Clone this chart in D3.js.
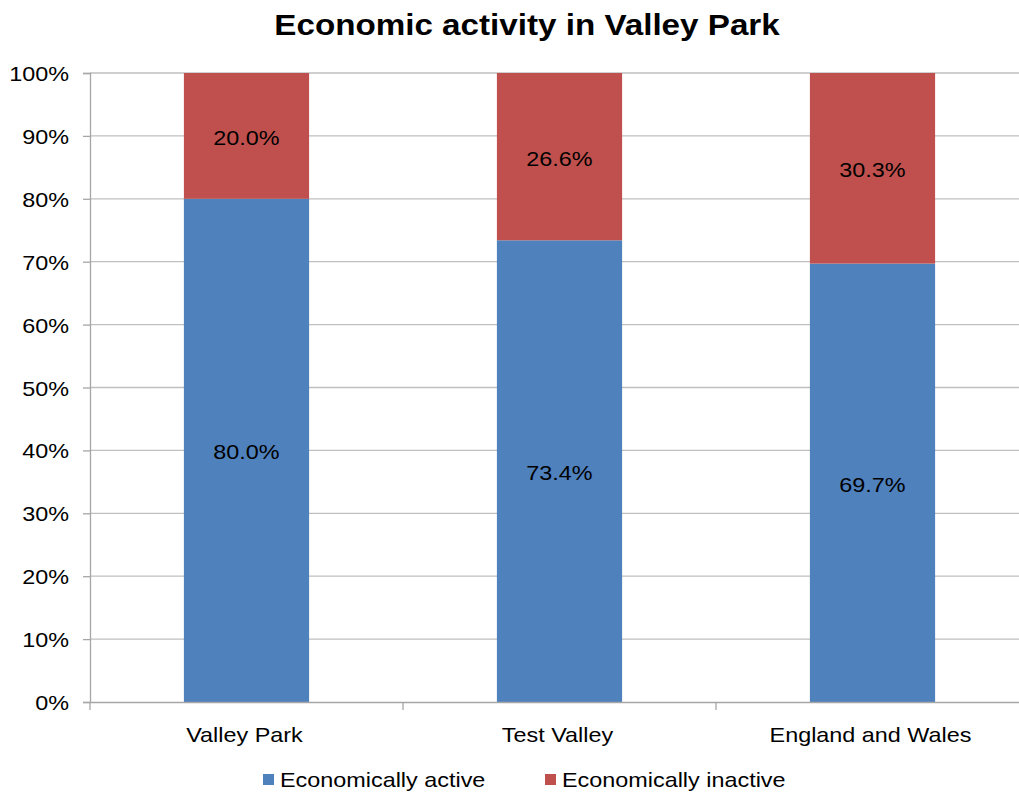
<!DOCTYPE html>
<html><head><meta charset="utf-8">
<script src="https://cdn.jsdelivr.net/npm/d3@7"></script>
<style>body{margin:0;background:#fff;}svg{display:block;font-family:"Liberation Sans",Arial,sans-serif;}</style>
</head><body><svg id="c" width="1019" height="792"></svg>
<script>
const categories = ["Valley Park", "Test Valley", "England and Wales"];
const active = [80.0, 73.4, 69.7];
const inactive = [20.0, 26.6, 30.3];
const seriesNames = ["Economically active", "Economically inactive"];
const yTicks = [0,10,20,30,40,50,60,70,80,90,100];
const colors = ["#4F81BD", "#C0504D"];

(function(){
const svg = d3.select("#c");
const pl = 90, pr = 1029, pt = 73, pb = 702;
const SX = 1.17;
const x = d3.scaleBand().domain(categories).range([pl, pr]).paddingInner(0).paddingOuter(0);
const y = d3.scaleLinear().domain([0,100]).range([pb, pt]);
const barW = x.bandwidth() / 2.5;

svg.append("text").attr("transform","translate(527,35) scale(1.145,1)").attr("text-anchor","middle")
  .attr("font-size", 29).attr("font-weight","bold").attr("fill","#000").text("Economic activity in Valley Park");

// gridlines
svg.append("g").selectAll("line").data(yTicks.filter(d=>d>0)).join("line")
  .attr("x1", pl).attr("x2", 1019).attr("y1", d=>y(d)).attr("y2", d=>y(d))
  .attr("stroke","#bfbfbf").attr("stroke-width",1.3);

// y axis
const yAxis = d3.axisLeft(y).tickValues(yTicks).tickFormat(d=>d+"%").tickSize(7).tickPadding(12);
const gy = svg.append("g").attr("transform",`translate(${pl},0)`).call(yAxis);
gy.select(".domain").attr("stroke","#a6a6a6").attr("stroke-width",1.3);
gy.selectAll(".tick line").attr("stroke","#a6a6a6").attr("stroke-width",1.3);
gy.selectAll(".tick text").attr("font-size",20).attr("fill","#000").attr("font-family","Liberation Sans, Arial, sans-serif")
  .attr("x", 0).attr("dy", null).attr("y", 7.5).attr("transform", `translate(-21,0) scale(${SX},1)`);

// bars
const stacks = categories.map((c,i)=>[{c, s:0, y0:0, y1:active[i], v:active[i]},{c, s:1, y0:active[i], y1:100, v:inactive[i]}]).flat();
svg.append("g").selectAll("rect").data(stacks).join("rect")
  .attr("x", d=>x(d.c)+x.bandwidth()/2-barW/2).attr("width", barW)
  .attr("y", d=>y(d.y1)).attr("height", d=>y(d.y0)-y(d.y1))
  .attr("fill", d=>colors[d.s]);
svg.append("g").selectAll("text").data(stacks).join("text")
  .attr("transform", d=>`translate(${x(d.c)+x.bandwidth()/2},${y((d.y0+d.y1)/2)+9}) scale(${SX},1)`)
  .attr("text-anchor","middle").attr("font-size",20).attr("fill","#000")
  .text(d=>d.v.toFixed(1)+"%");

// x axis
const xAxis = d3.axisBottom(x).tickSize(0).tickPadding(0);
const gx = svg.append("g").attr("transform",`translate(0,${pb})`).call(xAxis);
gx.select(".domain").attr("stroke","#a6a6a6").attr("stroke-width",1.3);
gx.selectAll(".tick text").attr("font-size",20).attr("fill","#000").attr("font-family","Liberation Sans, Arial, sans-serif")
  .attr("dy", null).attr("y", 0).attr("transform", `translate(-2,40) scale(${SX},1)`);
// category separator ticks
svg.append("g").selectAll("line").data(categories).join("line")
  .attr("x1", d=>x(d)).attr("x2", d=>x(d)).attr("y1", pb).attr("y2", pb+8)
  .attr("stroke","#a6a6a6").attr("stroke-width",1.3);

// legend
const legX = [263, 545];
const lg = svg.append("g").selectAll("g").data(seriesNames).join("g")
  .attr("transform",(d,i)=>`translate(${legX[i]},774)`);
lg.append("rect").attr("width",11).attr("height",11).attr("y",0).attr("fill",(d,i)=>colors[i]);
lg.append("text").attr("transform",`translate(17,13) scale(${SX},1)`).attr("font-size",20).attr("fill","#000").text(d=>d);
})();
</script></body></html>
